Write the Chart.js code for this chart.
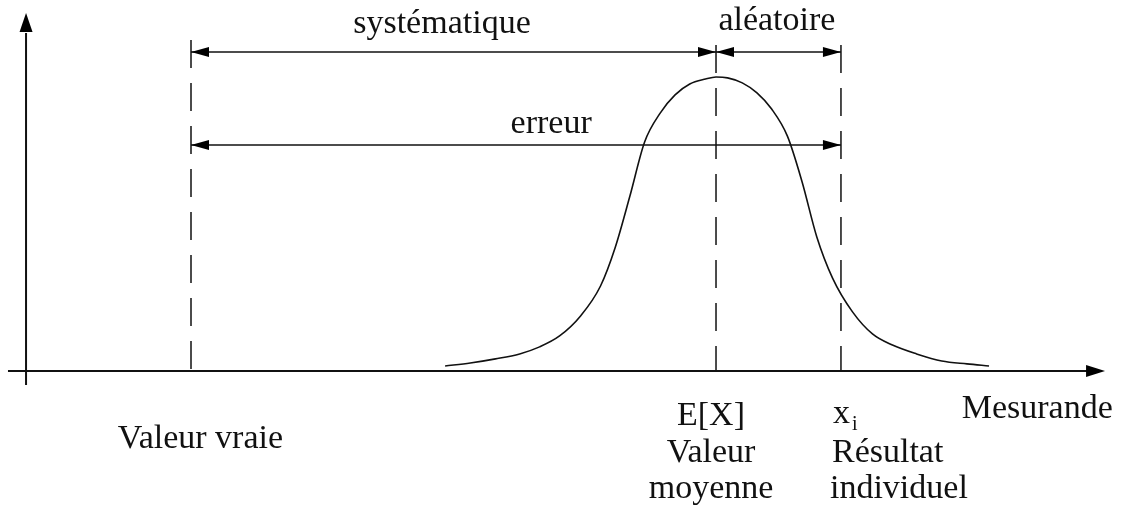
<!DOCTYPE html>
<html>
<head>
<meta charset="utf-8">
<script src="https://cdn.jsdelivr.net/npm/chart.js@4/dist/chart.umd.min.js"></script>
<style>
  body { margin: 0; background: #fff; }
  #chart-container { width: 1125px; height: 510px; }
</style>
</head>
<body>
<div id="chart-container"><canvas id="myChart" width="1125" height="510"></canvas></div>
<script>
// curve (x: mesurande, y: relative density)
var curveX = [2.42, 2.66, 2.90, 3.13, 3.32, 3.51, 3.71, 3.90, 4.04, 4.18, 4.32, 4.47, 4.61, 4.75, 4.90, 5.00,
              5.11, 5.25, 5.39, 5.53, 5.68, 5.82, 5.96, 6.11, 6.30, 6.49, 6.68, 6.91, 7.15, 7.39, 7.60];
var curveY = [0.017, 0.027, 0.041, 0.058, 0.082, 0.119, 0.187, 0.289, 0.420, 0.595, 0.779, 0.878, 0.939, 0.976, 0.993, 1.000,
              0.997, 0.980, 0.946, 0.891, 0.799, 0.643, 0.456, 0.316, 0.201, 0.126, 0.088, 0.058, 0.034, 0.024, 0.017];

// marker values on the measurand axis
var valeurVraie = 0;
var valeurMoyenne = 5;
var resultat = 6.19;

var spanLabels = ['systématique', 'aléatoire', 'erreur'];
var axisLabel = 'Mesurande';
var vraieLabel = 'Valeur vraie';
var moyenneLabels = ['E[X]', 'Valeur', 'moyenne'];
var resultatLabels = ['Résultat', 'individuel'];

var points = [];
for (var i = 0; i < curveX.length; i++) {
    points.push({x: curveX[i], y: curveY[i]});
}

var FONT = '34px "Liberation Serif", "Times New Roman", serif';

function arrowHead(ctx, x, y, dir, len, half) {
    // dir: 'l','r','u'
    ctx.beginPath();
    if (dir == 'r') { ctx.moveTo(x, y); ctx.lineTo(x - len, y - half); ctx.lineTo(x - len, y + half); }
    if (dir == 'l') { ctx.moveTo(x, y); ctx.lineTo(x + len, y - half); ctx.lineTo(x + len, y + half); }
    if (dir == 'u') { ctx.moveTo(x, y); ctx.lineTo(x - half, y + len); ctx.lineTo(x + half, y + len); }
    ctx.closePath();
    ctx.fill();
}

function span(ctx, xs, ys, a, b, y) {
    var pa = xs.getPixelForValue(a), pb = xs.getPixelForValue(b), py = ys.getPixelForValue(y);
    ctx.lineWidth = 1.5;
    ctx.beginPath();
    ctx.moveTo(pa, py); ctx.lineTo(pb, py);
    ctx.stroke();
    arrowHead(ctx, pa, py, 'l', 18, 5);
    arrowHead(ctx, pb, py, 'r', 18, 5);
}

var schema = {
    id: 'schema',
    afterDatasetsDraw: function(chart) {
        var ctx = chart.ctx, xs = chart.scales.x, ys = chart.scales.y;
        ctx.save();
        ctx.strokeStyle = '#111';
        ctx.fillStyle = '#000';

        // axes
        var y0 = ys.getPixelForValue(0);
        var xo = xs.getPixelForValue(-1.571);
        ctx.lineWidth = 2;
        ctx.beginPath();
        ctx.moveTo(xs.getPixelForValue(-1.743), y0);
        ctx.lineTo(xs.getPixelForValue(8.62), y0);
        ctx.moveTo(xo, ys.getPixelForValue(-0.048));
        ctx.lineTo(xo, ys.getPixelForValue(1.15));
        ctx.stroke();
        arrowHead(ctx, xs.getPixelForValue(8.705), y0, 'r', 19, 6);
        arrowHead(ctx, xo, ys.getPixelForValue(1.218), 'u', 19, 6.5);

        // dashed markers
        ctx.lineWidth = 1.5;
        ctx.setLineDash([28, 15]);
        [[valeurVraie, 1.126], [valeurMoyenne, 1.109], [resultat, 1.109]].forEach(function(m) {
            var px = xs.getPixelForValue(m[0]);
            ctx.beginPath();
            ctx.moveTo(px, ys.getPixelForValue(m[1]));
            ctx.lineTo(px, y0);
            ctx.stroke();
        });
        ctx.setLineDash([]);

        // double arrows
        span(ctx, xs, ys, valeurVraie, valeurMoyenne, 1.085);
        span(ctx, xs, ys, valeurMoyenne, resultat, 1.085);
        span(ctx, xs, ys, valeurVraie, resultat, 0.769);

        // texts
        ctx.font = FONT;
        ctx.textBaseline = 'alphabetic';
        ctx.fillStyle = '#111';
        ctx.textAlign = 'center';
        ctx.fillText(spanLabels[0], xs.getPixelForValue(2.39), ys.getPixelForValue(1.150));
        ctx.fillText(spanLabels[1], xs.getPixelForValue(5.58), ys.getPixelForValue(1.160));
        ctx.fillText(spanLabels[2], xs.getPixelForValue(3.43), ys.getPixelForValue(0.810));
        ctx.fillText(vraieLabel, xs.getPixelForValue(0.09), ys.getPixelForValue(-0.262));
        var mx = xs.getPixelForValue(valeurMoyenne) - 5;
        ctx.fillText(moyenneLabels[0], mx, ys.getPixelForValue(-0.184));
        ctx.fillText(moyenneLabels[1], mx, ys.getPixelForValue(-0.310));
        ctx.fillText(moyenneLabels[2], mx, ys.getPixelForValue(-0.432));

        ctx.textAlign = 'left';
        var rx = xs.getPixelForValue(resultat) - 9;
        ctx.fillText('x', rx + 1, ys.getPixelForValue(-0.177));
        ctx.font = '20px "Liberation Serif", "Times New Roman", serif';
        ctx.fillText('i', rx + 20, ys.getPixelForValue(-0.200));
        ctx.font = FONT;
        ctx.fillText(resultatLabels[0], rx, ys.getPixelForValue(-0.310));
        ctx.fillText(resultatLabels[1], rx - 2, ys.getPixelForValue(-0.432));
        ctx.fillText(axisLabel, xs.getPixelForValue(7.34), ys.getPixelForValue(-0.160));
        ctx.restore();
    }
};

var ctx = document.getElementById('myChart');
var myChart = new Chart(ctx, {
    type: 'scatter',
    data: {
        datasets: [{
            data: points,
            showLine: true,
            borderColor: '#111',
            borderWidth: 1.6,
            pointRadius: 0,
            cubicInterpolationMode: 'monotone'
        }]
    },
    options: {
        responsive: false,
        animation: false,
        layout: { padding: 0 },
        plugins: {
            legend: { display: false },
            tooltip: { enabled: false }
        },
        scales: {
            x: { type: 'linear', display: false, min: -1.819, max: 8.895 },
            y: { type: 'linear', display: false, min: -0.473, max: 1.262 }
        }
    },
    plugins: [schema]
});
</script>
</body>
</html>
